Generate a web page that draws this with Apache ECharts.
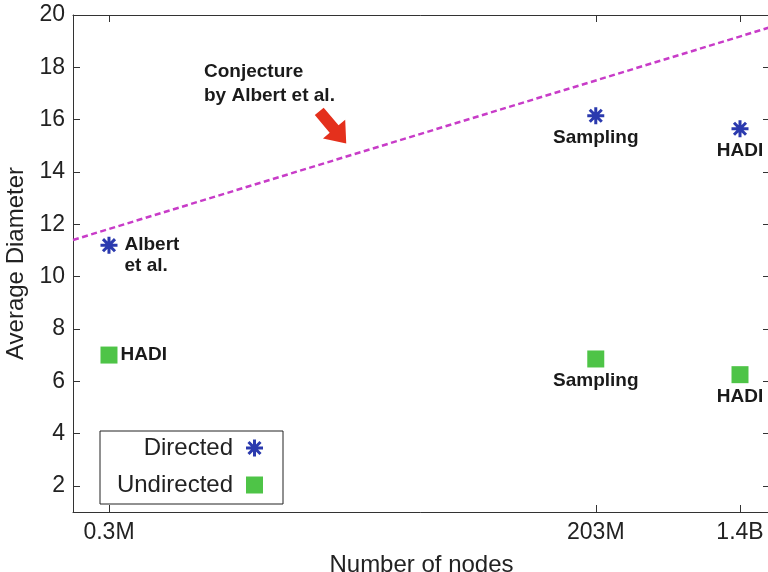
<!DOCTYPE html>
<html>
<head>
<meta charset="utf-8">
<script src="https://cdn.jsdelivr.net/npm/echarts@6/dist/echarts.min.js"></script>
<style>
  html, body { margin: 0; padding: 0; background: #fff; }
  #chart { width: 768px; height: 572px; }
</style>
</head>
<body>
<div id="chart"></div>
<script>
// Graph sizes (number of nodes) of the measured graphs
const nodeCounts = [3e5, 2.03e8, 1.4e9];
const nodeTickLabels = ['0.3M', '203M', '1.4B'];
const diameterTicks = [2, 4, 6, 8, 10, 12, 14, 16, 18, 20];

// Average diameter per graph
const directedDiameter = [11.2, 16.15, 15.65];
const directedNames = ['Albert\net al.', 'Sampling', 'HADI'];
const undirectedDiameter = [7.0, 6.85, 6.25];
const undirectedNames = ['HADI', 'Sampling', 'HADI'];

// Conjecture by Albert et al. (end points across the node range)
const conjectureNodes = [1.853e5, 2.092e9];
const conjectureDiameter = [11.4, 19.53];
const arrowAt = [6.0e6, 15.7];

const FONT = '"Liberation Sans", Arial, Helvetica, sans-serif';
const AXIS_COLOR = '#333';
const STAR_COLOR = '#2b3aae';
const SQUARE_COLOR = '#4ec447';

// eight-armed asterisk marker
const asterisk = 'path://M1,8.4L19,8.4L19,11.6L1,11.6Z' +
  'M8.4,1L11.6,1L11.6,19L8.4,19Z' +
  'M2.505,4.767L4.767,2.505L17.495,15.233L15.233,17.495Z' +
  'M2.505,15.233L15.233,2.505L17.495,4.767L4.767,17.495Z';
const arrowShape = 'path://M0,38L55,38L55,20L100,50L55,80L55,62L0,62Z';

function tickName(v) {
  const i = nodeCounts.findIndex(n => Math.abs(n - v) / n < 1e-3);
  return i >= 0 ? nodeTickLabels[i] : '';
}

const xBase = {
  type: 'log',
  logBase: 10,
  min: conjectureNodes[0],
  max: conjectureNodes[1],
  axisLine: { show: true, onZero: false, lineStyle: { color: AXIS_COLOR, width: 1 } },
  axisTick: { show: true, inside: true, length: 7, customValues: nodeCounts, lineStyle: { color: AXIS_COLOR } },
  splitLine: { show: false },
  minorTick: { show: false },
  minorSplitLine: { show: false }
};
const yBase = {
  type: 'value',
  min: 1,
  max: 20,
  axisLine: { show: true, onZero: false, lineStyle: { color: AXIS_COLOR, width: 1 } },
  axisTick: { show: true, inside: true, length: 7, customValues: diameterTicks, lineStyle: { color: AXIS_COLOR } },
  splitLine: { show: false }
};

const pointLabel = {
  show: true,
  formatter: '{b}',
  fontFamily: FONT,
  fontWeight: 'bold',
  fontSize: 19,
  lineHeight: 21,
  color: '#1a1a1a',
  opacity: 1
};

function points(values, names) {
  const isDirected = values === directedDiameter;
  return nodeCounts.map((n, i) => ({
    value: [n, values[i]],
    name: names[i],
    label: i === 0
      ? { position: 'right', distance: isDirected ? 7 : 3, offset: [0, isDirected ? 10 : 0] }
      : { position: 'bottom', distance: 3 }
  }));
}

const chart = echarts.init(document.getElementById('chart'), null, { renderer: 'canvas' });
chart.setOption({
  animation: false,
  backgroundColor: '#fff',
  textStyle: { fontFamily: FONT },
  grid: { left: 73, right: -2, top: 15, bottom: 60, containLabel: false, outerBoundsMode: 'none' },
  xAxis: [
    Object.assign({}, xBase, {
      position: 'bottom',
      name: 'Number of nodes',
      nameLocation: 'middle',
      nameGap: 41,
      nameTextStyle: { fontFamily: FONT, fontSize: 24, color: '#222' },
      axisLabel: {
        show: true, customValues: nodeCounts, formatter: tickName,
        fontFamily: FONT, fontSize: 23, color: '#222', margin: 9
      }
    }),
    Object.assign({}, xBase, { position: 'top', axisLabel: { show: false } })
  ],
  yAxis: [
    Object.assign({}, yBase, {
      position: 'left',
      name: 'Average Diameter',
      nameLocation: 'middle',
      nameGap: 44,
      nameTextStyle: { fontFamily: FONT, fontSize: 24, color: '#222' },
      axisLabel: {
        show: true, customValues: diameterTicks,
        fontFamily: FONT, fontSize: 23, color: '#222', margin: 8,
        padding: [6, 0, 0, 0]
      }
    }),
    Object.assign({}, yBase, { position: 'right', axisLabel: { show: false } })
  ],
  legend: {
    data: ['Directed', 'Undirected'],
    orient: 'vertical',
    left: 100,
    top: 431,
    align: 'right',
    backgroundColor: '#fff',
    borderColor: '#222',
    borderWidth: 1,
    borderRadius: 0,
    padding: [5, 20, 7, 15],
    itemWidth: 17,
    itemHeight: 17,
    itemGap: 13,
    itemStyle: { opacity: 1 },
    textStyle: {
      fontFamily: FONT, fontSize: 24, color: '#222', lineHeight: 24,
      width: 118, align: 'right', padding: [0, 8, 0, 0]
    }
  },
  graphic: [{
    type: 'text',
    left: 204,
    top: 60,
    style: {
      text: 'Conjecture\nby Albert et al.',
      font: 'bold 19px ' + FONT,
      lineHeight: 24,
      fill: '#1a1a1a'
    }
  }],
  series: [
    {
      name: 'Conjecture',
      type: 'line',
      xAxisIndex: 0,
      yAxisIndex: 0,
      data: conjectureNodes.map((n, i) => [n, conjectureDiameter[i]]),
      symbol: 'none',
      lineStyle: { color: '#c83cc8', width: 2.5, type: [6, 3.5] },
      z: 1,
      markPoint: {
        silent: true,
        data: [{ coord: arrowAt }],
        symbol: arrowShape,
        symbolSize: [42, 29],
        symbolRotate: -50,
        itemStyle: { color: '#e4301c', opacity: 1 },
        label: { show: false }
      }
    },
    {
      name: 'Directed',
      type: 'scatter',
      xAxisIndex: 0,
      yAxisIndex: 0,
      symbol: asterisk,
      symbolSize: 17,
      itemStyle: { color: STAR_COLOR, opacity: 1 },
      label: pointLabel,
      data: points(directedDiameter, directedNames),
      z: 3
    },
    {
      name: 'Undirected',
      type: 'scatter',
      xAxisIndex: 0,
      yAxisIndex: 0,
      symbol: 'rect',
      symbolSize: 17,
      itemStyle: { color: SQUARE_COLOR, opacity: 1 },
      label: pointLabel,
      data: points(undirectedDiameter, undirectedNames),
      z: 3
    }
  ]
});
</script>
</body>
</html>
